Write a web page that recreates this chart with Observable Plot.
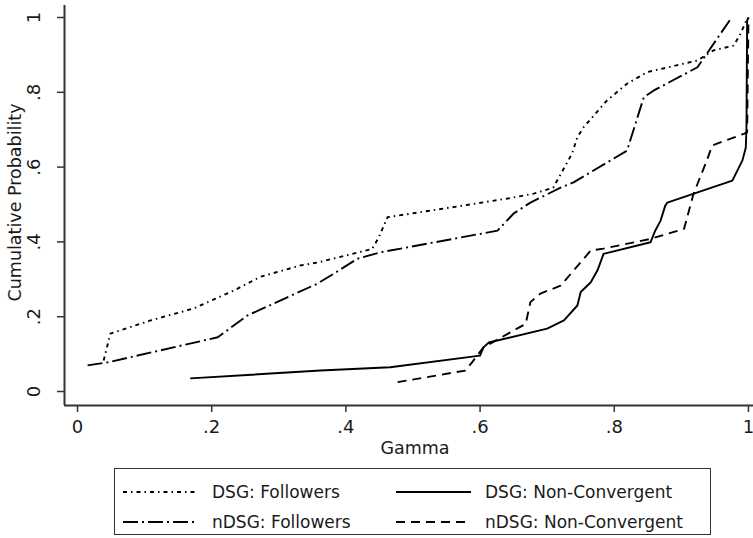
<!DOCTYPE html>
<html>
<head>
<meta charset="utf-8">
<script src="https://cdn.jsdelivr.net/npm/d3@7"></script>
<script src="https://cdn.jsdelivr.net/npm/@observablehq/plot@0.6"></script>
<style>
  html, body { margin: 0; padding: 0; background: #fff; }
  body { width: 753px; height: 538px; overflow: hidden; font-family: "DejaVu Sans", sans-serif; }
  #legend { position: relative; margin-left: 114px; margin-top: 6px; width: 597px; height: 67px;
            border: 1.5px solid #333; box-sizing: border-box; font-size: 17px; color: #1a1a1a; }
  .item { position: absolute; display: flex; align-items: center; height: 24px; }
  .item svg { display: block; }
  .item span { margin-left: 14px; white-space: nowrap; }
</style>
</head>
<body>
<div id="chart"></div>
<script>
// ---- Data ----
const seriesNames = ["DSG: Followers", "nDSG: Followers", "DSG: Non-Convergent", "nDSG: Non-Convergent"];

const dsgFollowersX = [0.039, 0.049, 0.109, 0.173, 0.233, 0.273, 0.332, 0.358, 0.439, 0.449, 0.462, 0.556, 0.641, 0.680, 0.709, 0.737, 0.745, 0.754, 0.789, 0.819, 0.849, 0.924, 0.948, 0.978, 0.988, 0.998];
const dsgFollowersY = [0.083, 0.155, 0.190, 0.222, 0.270, 0.307, 0.337, 0.345, 0.381, 0.412, 0.466, 0.492, 0.516, 0.529, 0.545, 0.636, 0.680, 0.706, 0.778, 0.823, 0.854, 0.885, 0.912, 0.925, 0.956, 0.997];

const ndsgFollowersX = [0.015, 0.045, 0.209, 0.253, 0.357, 0.382, 0.417, 0.451, 0.626, 0.650, 0.675, 0.720, 0.740, 0.819, 0.844, 0.859, 0.924, 0.973];
const ndsgFollowersY = [0.070, 0.078, 0.145, 0.203, 0.288, 0.315, 0.355, 0.372, 0.430, 0.476, 0.505, 0.545, 0.560, 0.644, 0.787, 0.805, 0.867, 0.995];

const dsgNonConvX = [0.168, 0.362, 0.466, 0.600, 0.605, 0.613, 0.700, 0.725, 0.745, 0.750, 0.765, 0.775, 0.784, 0.854, 0.861, 0.869, 0.876, 0.879, 0.976, 0.991, 0.996, 0.997, 0.998, 1.000];
const dsgNonConvY = [0.035, 0.056, 0.065, 0.096, 0.118, 0.131, 0.168, 0.190, 0.230, 0.266, 0.292, 0.324, 0.368, 0.399, 0.430, 0.457, 0.497, 0.505, 0.564, 0.618, 0.652, 0.706, 0.992, 1.000];

const ndsgNonConvX = [0.477, 0.578, 0.588, 0.605, 0.668, 0.675, 0.690, 0.720, 0.765, 0.784, 0.854, 0.904, 0.918, 0.938, 0.946, 0.993, 0.998, 1.000];
const ndsgNonConvY = [0.025, 0.056, 0.078, 0.118, 0.181, 0.239, 0.262, 0.283, 0.377, 0.382, 0.408, 0.435, 0.528, 0.618, 0.658, 0.689, 0.693, 1.000];

const xTicks = [0, 0.2, 0.4, 0.6, 0.8, 1];
const xTickLabels = ["0", ".2", ".4", ".6", ".8", "1"];
const yTicks = [0, 0.2, 0.4, 0.6, 0.8, 1];
const yTickLabels = ["0", ".2", ".4", ".6", ".8", "1"];
const xTitle = "Gamma";
const yTitle = "Cumulative Probability";

const xDomain = [-0.0194, 1.0075];
const yDomain = [-0.0374, 1.0321];

const dashes = ["4,4,1.5,4", "15,4,2,4", null, "9,6"];

// ---- Build tables ----
const toRows = (xs, ys) => xs.map((x, i) => ({x, y: ys[i]}));
const tables = [
  toRows(dsgFollowersX, dsgFollowersY),
  toRows(ndsgFollowersX, ndsgFollowersY),
  toRows(dsgNonConvX, dsgNonConvY),
  toRows(ndsgNonConvX, ndsgNonConvY)
];

const lineMarks = tables.map((t, i) =>
  Plot.line(t, {x: "x", y: "y", stroke: "#000", strokeWidth: 1.9,
    strokeDasharray: dashes[i] ?? undefined, strokeLinejoin: "round", strokeLinecap: "butt"}));

const chart = Plot.plot({
  width: 753,
  height: 462,
  marginLeft: 64,
  marginRight: 0,
  marginTop: 5,
  marginBottom: 57,
  style: {fontFamily: "DejaVu Sans, sans-serif", fontSize: "17px", color: "#1a1a1a", background: "#fff"},
  x: {domain: xDomain},
  y: {domain: yDomain},
  marks: [
    ...lineMarks,
    Plot.ruleY([yDomain[0]], {stroke: "#333", strokeWidth: 2}),
    Plot.ruleX([xDomain[0]], {stroke: "#333", strokeWidth: 2}),
    Plot.axisX(xTicks, {tickSize: 7, tickPadding: 8, strokeWidth: 1.5, stroke: "#333",
      tickFormat: (d, i) => xTickLabels[i], fontSize: 18, label: null}),
    Plot.axisY(yTicks, {tickSize: 7, strokeWidth: 1.5, stroke: "#333",
      tickFormat: () => "", label: null}),
    Plot.text(yTicks, {y: d => d, frameAnchor: "left", dx: -30,
      text: (d, i) => yTickLabels[i], rotate: -90, textAnchor: "middle", lineAnchor: "middle",
      fontSize: 18, fill: "#1a1a1a"}),
    Plot.text([yTitle], {frameAnchor: "left", dx: -49, dy: -3, rotate: -90, textAnchor: "middle",
      lineAnchor: "middle", fontSize: 17.5, fill: "#1a1a1a"}),
    Plot.text([xTitle], {frameAnchor: "bottom", dx: 6, dy: 43, textAnchor: "middle",
      lineAnchor: "middle", fontSize: 17.5, fill: "#1a1a1a"})
  ]
});
document.getElementById("chart").appendChild(chart);

// ---- Legend (HTML below the SVG) ----
const legend = document.createElement("div");
legend.id = "legend";
const positions = [
  {left: 8, top: 11}, {left: 8, top: 41},
  {left: 281, top: 11}, {left: 281, top: 41}
];
seriesNames.forEach((name, i) => {
  const item = document.createElement("div");
  item.className = "item";
  item.style.left = positions[i].left + "px";
  item.style.top = positions[i].top + "px";
  const dash = dashes[i] ? `stroke-dasharray="${dashes[i]}"` : "";
  item.innerHTML = `<svg width="75" height="6"><line x1="0" y1="3" x2="75" y2="3" stroke="#000" stroke-width="1.9" ${dash}/></svg><span>${name}</span>`;
  legend.appendChild(item);
});
document.body.appendChild(legend);
</script>
</body>
</html>
